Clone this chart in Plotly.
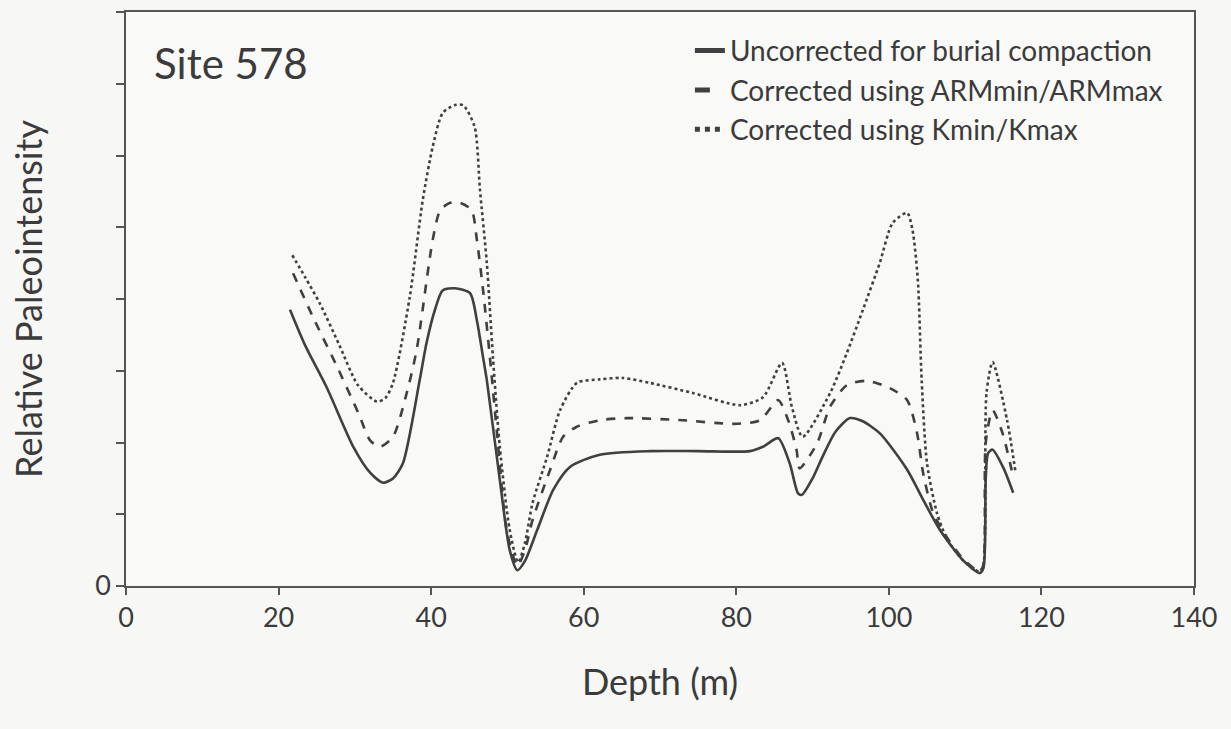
import plotly.graph_objects as go

# ---- data ----
solid_x = [21.5, 23.5, 26.3, 29.8, 32.0, 33.7, 35.0, 36.3, 38.5, 39.4, 40.5, 41.5, 43.1, 45.1, 46.0,
           46.8, 47.3, 49.0, 50.3, 51.3, 52.3, 53.9, 56.0, 58.2, 62.1, 68.7, 75.0, 81.8, 83.5, 85.5,
           87.0, 88.1, 88.6, 90.0, 91.3, 93.0, 94.9, 96.5, 98.8, 102.4, 104.5, 106.7, 109.7, 111.9, 112.4,
           112.7, 113.0, 113.6, 115.0, 116.3]
solid_y = [3.85, 3.35, 2.77, 1.94, 1.58, 1.44, 1.50, 1.71, 2.87, 3.39, 3.85, 4.12, 4.15, 4.08, 3.70,
           3.19, 2.87, 1.48, 0.50, 0.22, 0.35, 0.78, 1.34, 1.66, 1.83, 1.88, 1.88, 1.88, 1.94, 2.06,
           1.71, 1.29, 1.27, 1.50, 1.80, 2.15, 2.34, 2.30, 2.13, 1.62, 1.20, 0.78, 0.36, 0.18, 0.25,
           1.50, 1.85, 1.90, 1.65, 1.30]

arm_x = [21.9, 24.5, 27.7, 30.5, 32.0, 33.3, 35.0, 36.8, 38.1, 40.2, 41.2, 42.5, 43.8, 45.3, 46.0,
         46.8, 47.7, 48.6, 49.9, 51.3, 52.3, 53.3, 55.6, 57.3, 59.1, 62.1, 65.7, 73.0, 79.6, 83.1,
         85.5, 86.8, 87.9, 88.3, 90.6, 92.3, 94.5, 97.1, 100.1, 102.4, 103.7, 104.5, 105.8, 107.6, 109.7,
         111.9, 112.4, 112.7, 113.6, 114.9, 116.3]
arm_y = [4.36, 3.75, 3.05, 2.40, 2.03, 1.94, 2.08, 2.69, 3.29, 4.82, 5.24, 5.34, 5.34, 5.24, 4.82,
         4.13, 3.19, 2.17, 0.78, 0.28, 0.50, 0.92, 1.62, 2.08, 2.22, 2.31, 2.34, 2.31, 2.26, 2.31,
         2.59, 2.31, 1.90, 1.64, 1.99, 2.50, 2.80, 2.86, 2.76, 2.59, 2.13, 1.57, 1.02, 0.68, 0.38,
         0.20, 0.30, 2.00, 2.45, 2.13, 1.52]

k_x = [21.8, 23.5, 25.4, 28.0, 30.4, 32.9, 34.0, 35.0, 37.2, 38.9, 40.2, 41.5, 43.0, 44.2, 45.7,
       46.4, 47.3, 48.1, 49.0, 50.3, 51.4, 52.3, 53.3, 55.2, 56.9, 59.1, 62.1, 65.1, 68.7, 74.3,
       80.5, 83.5, 86.0, 87.3, 88.7, 92.3, 94.5, 96.6, 98.8, 100.5, 102.4, 103.1, 103.8, 104.3, 105.0,
       106.3, 107.6, 109.7, 111.9, 112.4, 112.8, 113.6, 115.5, 116.6]
k_y = [4.61, 4.30, 3.94, 3.35, 2.80, 2.57, 2.62, 2.83, 4.03, 5.38, 6.12, 6.59, 6.70, 6.70, 6.40,
       5.52, 4.50, 3.19, 1.94, 0.78, 0.33, 0.60, 1.16, 1.80, 2.45, 2.83, 2.88, 2.90, 2.83, 2.69,
       2.52, 2.63, 3.11, 2.49, 2.08, 2.69, 3.25, 3.85, 4.50, 5.06, 5.20, 4.96, 4.26, 2.87, 1.71,
       1.02, 0.66, 0.36, 0.20, 0.30, 2.69, 3.12, 2.31, 1.59]

series_names = ["Uncorrected for burial compaction",
                "Corrected using ARMmin/ARMmax",
                "Corrected using Kmin/Kmax"]
x_ticks = [0, 20, 40, 60, 80, 100, 120, 140]
y_ticks = [0, 1, 2, 3, 4, 5, 6, 7, 8]
y_ticktext = ["0", "", "", "", "", "", "", "", ""]

FONT = "Lato, Roboto, sans-serif"
INK = "#3b3b3b"
LINE = "#404040"

fig = go.Figure()
for xs, ys, name, dash in [(solid_x, solid_y, series_names[0], "solid"),
                           (arm_x, arm_y, series_names[1], "dash"),
                           (k_x, k_y, series_names[2], "dot")]:
    fig.add_trace(go.Scatter(x=xs, y=ys, mode="lines", name=name,
                             line=dict(color=LINE, width=2.6, dash=dash,
                                       shape="spline", smoothing=0.7)))

fig.update_layout(
    width=1231, height=729,
    margin=dict(l=126, r=37, t=12, b=143, autoexpand=False),
    paper_bgcolor="#f7f7f5", plot_bgcolor="#f9f9f7",
    font=dict(family=FONT, color=INK),
    showlegend=True,
    legend=dict(x=0.528, y=0.976, xanchor="left", yanchor="top",
                bgcolor="rgba(0,0,0,0)", font=dict(size=28, family=FONT, color=INK),
                tracegroupgap=0, itemsizing="constant"),
    annotations=[dict(text="Site 578", x=0.024, y=0.911, xref="paper", yref="paper",
                      xanchor="left", yanchor="middle", showarrow=False,
                      font=dict(size=42, family=FONT, color=INK))],
)
fig.update_xaxes(range=[0, 140], tickvals=x_ticks, ticks="outside", ticklen=7,
                 tickcolor="#555", tickwidth=1.5, showline=True, linecolor="#555",
                 linewidth=1.5, mirror=True, showgrid=False, zeroline=False, automargin=False,
                 tickfont=dict(size=27, family=FONT, color=INK),
                 title=dict(text="Depth (m)", font=dict(size=36, family=FONT, color=INK),
                            standoff=38))
fig.update_yaxes(range=[0, 8], tickvals=y_ticks, ticktext=y_ticktext, ticks="outside",
                 ticklen=8, tickcolor="#555", tickwidth=1.5, showline=True, linecolor="#555",
                 linewidth=1.5, mirror=True, showgrid=False, zeroline=False, automargin=False,
                 tickfont=dict(size=27, family=FONT, color=INK),
                 title=dict(text="Relative Paleointensity",
                            font=dict(size=36, family=FONT, color=INK), standoff=42))

fig.write_html("out.html")
